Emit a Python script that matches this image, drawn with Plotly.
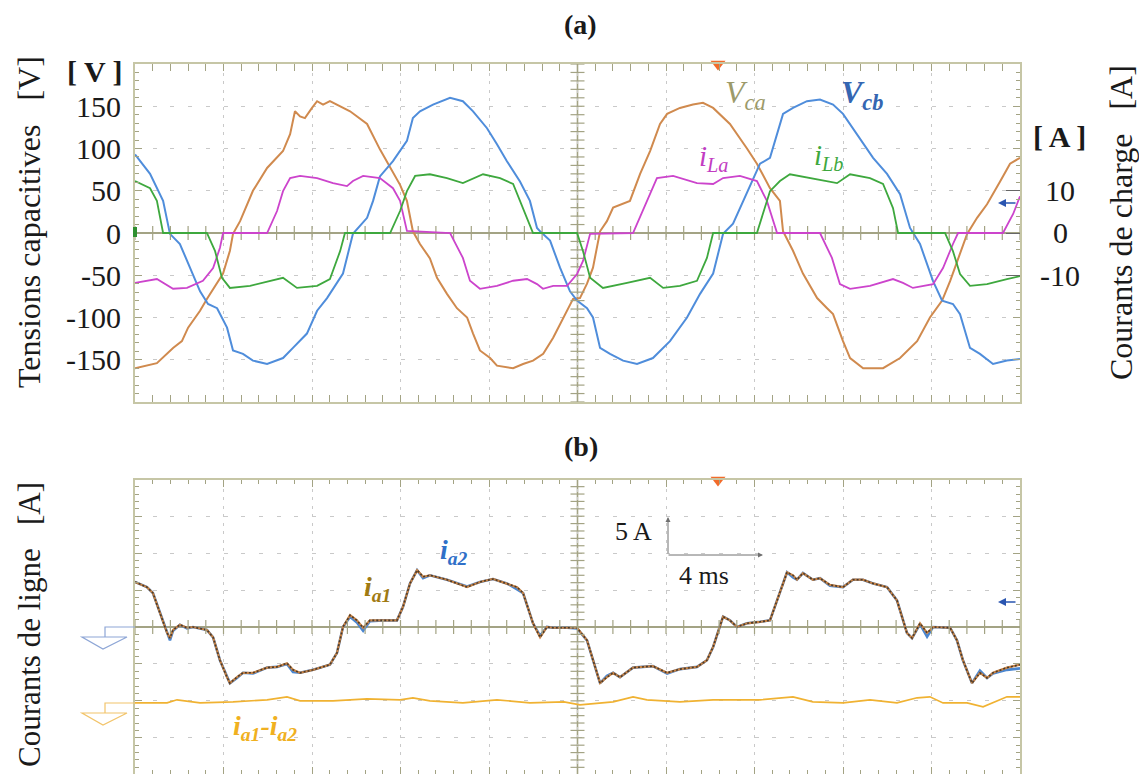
import numpy as np
import plotly.graph_objects as go

# ---------------- data ----------------
# time in ms (4 ms/div, 10 div)
t_vca = [0, 0.99, 1.72, 2.12, 2.40, 2.94, 3.25, 3.71, 3.98, 4.29, 4.43, 4.75, 5.33, 5.97, 6.42, 6.69,
         7.01, 7.23, 7.46, 7.68, 8.00, 8.23, 8.50, 8.81, 9.72, 10.49, 11.07, 11.53, 11.98, 12.29, 12.56,
         12.88, 13.33, 13.65, 14.10, 14.55, 15.01, 15.28, 15.59, 16.05, 16.36, 17.09, 17.54, 17.99, 18.45,
         18.90, 19.30, 19.80, 20.11, 20.43, 20.70, 20.93, 21.02, 21.33, 21.61, 22.37, 22.83, 23.28, 23.73,
         24.05, 24.63, 25.22, 25.67, 26.13, 26.89, 27.66, 28.11, 28.70, 29.15, 29.29, 29.74, 30.19, 30.83,
         31.28, 31.55, 32.00, 32.32, 32.91, 33.81, 34.58, 35.35, 35.93, 36.48, 36.84, 37.29, 37.61, 38.06,
         38.51, 39.10, 39.55, 40.00]
vca = [-160, -154, -136, -128, -112, -92, -78, -60, -48, -21, -1, 14, 50, 77, 89, 97,
       117, 144, 138, 136, 148, 156, 152, 156, 144, 129, 99, 78, 57, 38, 2,
       -13, -30, -53, -72, -89, -100, -119, -139, -148, -157, -160, -155, -151, -143,
       -124, -104, -78, -77, -60, -41, -9, 2, 14, 30, 38, 70, 97, 129,
       141, 148, 152, 154, 148, 129, 100, 82, 53, 38, 2, -21, -48, -77,
       -89, -96, -128, -148, -160, -160, -148, -128, -100, -80, -57, -25, -1, 18,
       34, 61, 82, 89]

t_vcb = [0, 0.68, 1.27, 1.58, 2.03, 2.49, 2.94, 3.30, 3.71, 4.16, 4.43, 4.88, 5.33, 5.97, 6.69, 7.14,
         7.77, 8.23, 8.68, 9.40, 9.85, 10.49, 10.76, 11.07, 11.66, 12.29, 12.56, 12.88, 13.47, 14.24,
         14.82, 15.28, 15.91, 16.36, 16.81, 17.40, 17.85, 18.17, 18.31, 18.76, 19.21, 19.66, 19.98, 20.43,
         20.70, 21.02, 21.47, 22.06, 22.69, 23.41, 24.18, 24.95, 25.54, 26.13, 26.58, 27.03, 27.48, 28.25,
         28.70, 29.29, 29.74, 30.37, 30.96, 31.55, 32.00, 32.63, 33.36, 33.99, 34.58, 35.03, 35.48, 36.07,
         36.48, 36.97, 37.29, 37.74, 38.19, 38.78, 39.41, 40.00]
vcb = [93, 70, 38, -1, -13, -41, -69, -84, -89, -112, -139, -143, -151, -155, -148, -136,
       -119, -92, -77, -48, -1, 18, 38, 67, 85, 109, 136, 144, 152, 160,
       156, 144, 124, 105, 85, 61, 38, 6, 2, -9, -41, -69, -80, -89,
       -100, -136, -143, -151, -155, -148, -128, -100, -72, -48, -1, 11, 38, 82,
       89, 141, 148, 156, 158, 152, 141, 117, 89, 70, 46, 6, -13, -57,
       -80, -84, -96, -136, -143, -155, -151, -149]

t_ila = [0, 0.99, 1.72, 2.35, 3.07, 3.53, 3.84, 3.98, 5.97, 6.42, 6.69, 7.01, 7.46, 8.23, 8.95, 9.58,
         9.85, 10.31, 11.07, 11.66, 11.98, 12.29, 14.24, 14.82, 15.14, 15.59, 16.36, 17.09, 17.72, 18.17,
         18.44, 18.90, 19.53, 19.98, 20.25, 20.57, 22.51, 23.14, 23.59, 24.32, 25.40, 26.13, 26.58, 27.34,
         28.11, 28.56, 28.84, 29.02, 30.96, 31.50, 31.86, 32.32, 33.22, 34.26, 34.71, 35.16, 36.07, 36.52,
         36.97, 37.20, 39.23, 39.69, 40.00]
ila = [-11.8, -10.9, -13.2, -13.0, -11.3, -8.3, -3.5, 0, 0, 5.2, 9.9, 13.0, 13.5, 13.0, 11.8, 11.1,
       12.3, 13.5, 13.0, 10.6, 7.6, 0.5, 0, -5.9, -11.3, -13.2, -12.5, -11.3, -10.9, -12.1,
       -13.2, -12.5, -12.5, -9.7, -6.6, -0.2, 0, 7.6, 13.0, 13.5, 11.8, 11.6, 13.0, 13.5,
       12.3, 7.6, 2.8, 0, 0, -5.9, -12.1, -13.2, -12.5, -10.9, -11.8, -13.0, -12.1, -8.3,
       -2.6, 0, 0, 4.5, 8.7]

t_ilb = [0, 0.68, 0.99, 1.27, 3.25, 3.62, 3.93, 4.29, 5.20, 6.69, 7.32, 8.23, 8.81, 9.27, 9.49, 11.53,
         11.98, 12.29, 12.66, 13.33, 14.10, 14.82, 15.73, 16.50, 17.09, 17.72, 17.99, 19.98, 20.25, 20.57,
         21.15, 22.24, 23.28, 23.87, 24.63, 25.40, 25.85, 26.13, 28.11, 28.70, 29.15, 29.60, 30.51, 31.73,
         32.32, 33.22, 33.81, 34.26, 34.49, 36.61, 36.97, 37.29, 37.74, 38.51, 39.41, 40.00]
ilb = [12.3, 10.6, 7.6, 0, 0, -4.3, -10.6, -13.0, -12.5, -10.6, -13.0, -12.5, -10.9, -4.3, 0, 0,
       5.2, 9.9, 13.5, 13.9, 13.0, 11.8, 13.9, 13.0, 11.6, 3.5, 0, 0, -4.3, -10.6,
       -13.0, -11.8, -10.6, -13.0, -12.5, -11.3, -5.9, 0, 0, 9.9, 12.3, 13.9, 13.0, 11.8,
       13.9, 13.0, 11.6, 5.9, 0, 0, -4.3, -9.7, -12.5, -12.1, -10.9, -10.2]

t_ia = [0, 0.54, 0.81, 1.13, 1.45, 1.58, 1.72, 2.03, 2.35, 2.62, 3.25, 3.53, 3.84, 4.16, 4.29, 4.61,
        4.88, 5.33, 5.97, 6.42, 6.87, 7.14, 7.46, 8.05, 8.81, 9.13, 9.40, 9.72, 10.03, 10.31, 10.62,
        11.21, 11.84, 12.11, 12.43, 12.75, 13.02, 13.33, 14.10, 15.01, 15.59, 16.18, 16.81, 17.27, 17.54,
        17.99, 18.31, 18.62, 18.90, 19.53, 19.98, 20.43, 20.70, 21.02, 21.33, 21.61, 21.92, 22.51, 23.41,
        24.05, 24.63, 25.40, 25.85, 26.13, 26.58, 26.89, 27.21, 27.66, 28.25, 28.70, 29.02, 29.47, 29.74,
        29.92, 30.19, 30.64, 30.96, 31.41, 32.00, 32.45, 32.90, 33.36, 33.99, 34.44, 34.89, 35.12, 35.48,
        35.80, 36.07, 36.84, 37.15, 37.42, 37.83, 38.19, 38.51, 38.78, 39.41, 40.00]
ia1 = [6.1, 5.4, 4.6, 1.9, -0.8, -1.5, -0.4, 0.3, -0.1, 0, -0.4, -1.4, -4.5, -6.8, -7.6, -6.8,
       -6.2, -6.2, -5.5, -5.4, -4.9, -5.8, -6.2, -5.8, -5.1, -3.5, 0, 1.6, 0.9, -0.1, 0.9,
       0.9, 0.9, 2.7, 5.9, 7.7, 6.8, 7.0, 6.4, 5.4, 6.1, 6.5, 5.9, 5.4, 4.6,
       0.5, -1.4, 0, -0.1, -0.1, -0.1, -1.8, -4.5, -7.6, -6.8, -6.2, -6.8, -5.5, -5.3,
       -6.2, -5.7, -5.4, -4.5, -2.7, 1.4, 0.9, 0, 0.5, 0.7, 0.9, 3.6, 7.4, 7.0,
       6.4, 7.3, 6.4, 6.6, 5.7, 5.4, 6.4, 6.4, 5.9, 5.4, 3.6, -0.8, -1.5, 0.5,
       -0.8, 0, -0.1, -1.8, -4.5, -7.6, -6.2, -6.9, -6.2, -5.5, -5.1]
ia2 = [6.1, 5.4, 4.6, 1.9, -0.8, -1.8, -0.5, 0.3, -0.2, 0, -0.4, -1.4, -4.5, -6.8, -7.6, -6.9,
       -6.2, -6.3, -5.5, -5.4, -5.0, -6.1, -6.2, -5.8, -5.1, -3.5, 0, 1.4, 0.6, -0.5, 0.8,
       0.9, 0.9, 2.7, 5.9, 7.7, 6.6, 7.0, 6.4, 5.5, 6.1, 6.5, 5.9, 5.1, 4.6,
       0.5, -1.2, 0, -0.1, -0.1, -0.2, -1.8, -4.5, -7.6, -6.6, -6.2, -6.8, -5.5, -5.3,
       -6.3, -5.7, -5.4, -4.5, -2.7, 1.4, 0.9, 0, 0.5, 0.7, 0.9, 3.6, 7.4, 6.7,
       6.4, 7.3, 6.4, 6.6, 5.6, 5.4, 6.4, 6.4, 5.9, 5.4, 3.6, -0.8, -1.5, 0.4,
       -1.3, 0, -0.1, -1.8, -4.5, -7.6, -5.9, -6.9, -6.3, -5.8, -5.6]

t_diff = [0, 1.45, 1.90, 2.94, 4.43, 5.97, 6.87, 7.46, 8.95, 10.49, 11.98, 12.56, 13.33, 14.82, 16.36,
          17.85, 19.39, 20.11, 21.61, 22.51, 23.14, 24.63, 26.13, 27.66, 28.25, 29.74, 30.64, 32.00,
          33.22, 34.44, 35.35, 35.93, 36.52, 37.61, 38.33, 39.41, 40.00]
i_diff = [-0.27, -0.27, 0.14, -0.27, -0.14, 0.14, 0.54, 0, 0, 0.27, 0.14, 0.41, 0, -0.27, 0.14,
          -0.27, -0.14, -0.54, -0.14, 0.54, 0.14, -0.14, 0.14, 0.14, 0.14, 0.54, -0.14, -0.27,
          0.14, -0.27, 0.41, 0.54, -0.27, -0.27, -0.81, 0.54, 0.54]
DIFF_OFFSET = -10          # A, display offset of the i_a1 - i_a2 channel (2 div below zero)

v_ticks = [150, 100, 50, 0, -50, -100, -150]
a_ticks = [10, 0, -10]
TRIGGER_MS = 26.35

# ---------------- styling ----------------
W, H = 1139, 774
FONT = "Liberation Serif"
BORDER = "#c6c6a6"
CROSS = "#a3a384"
GRID = "#c9c9c9"
C_VCA = "#d08a4e"
C_VCB = "#4f8ddb"
C_ILA = "#cc44cc"
C_ILB = "#3ea83e"
C_IA1 = "#c98446"
C_IA2 = "#4a86d0"
C_DIF = "#f0b232"


def pxx(x):
    return x / W


def pxy(y):
    return 1 - y / H


fig = go.Figure()

# ---- top panel ----
fig.add_trace(go.Scatter(x=t_vca, y=vca, mode="lines", line=dict(color=C_VCA, width=2), xaxis="x", yaxis="y",
                         showlegend=False))
fig.add_trace(go.Scatter(x=t_vcb, y=vcb, mode="lines", line=dict(color=C_VCB, width=2), xaxis="x", yaxis="y",
                         showlegend=False))
fig.add_trace(go.Scatter(x=t_ila, y=ila, mode="lines", line=dict(color=C_ILA, width=1.8), xaxis="x", yaxis="y3",
                         showlegend=False))
fig.add_trace(go.Scatter(x=t_ilb, y=ilb, mode="lines", line=dict(color=C_ILB, width=1.8), xaxis="x", yaxis="y3",
                         showlegend=False))

# ---- bottom panel ----
fig.add_trace(go.Scatter(x=t_diff, y=[v + DIFF_OFFSET for v in i_diff], mode="lines",
                         line=dict(color=C_DIF, width=1.6), xaxis="x2", yaxis="y2", showlegend=False))
fig.add_trace(go.Scatter(x=t_ia, y=ia2, mode="lines", line=dict(color=C_IA2, width=2.6), xaxis="x2", yaxis="y2",
                         showlegend=False))
fig.add_trace(go.Scatter(x=t_ia, y=ia1, mode="lines", line=dict(color=C_IA1, width=2.2), xaxis="x2", yaxis="y2",
                         showlegend=False))
fig.add_trace(go.Scatter(x=t_ia, y=ia1, mode="lines", line=dict(color="#4a3a2a", width=1.6, dash="2px,2px"),
                         xaxis="x2", yaxis="y2", showlegend=False))

# ---- crosshair tick decorations ----
for xa, ya, yr, ystep in (("x", "y", 200, 10), ("x2", "y2", 20, 1)):
    yy = np.arange(-yr, yr + 1e-9, ystep)
    fig.add_trace(go.Scatter(x=[20] * len(yy), y=yy, mode="markers", xaxis=xa, yaxis=ya, hoverinfo="skip",
                             marker=dict(symbol="line-ew", size=10, line=dict(color=CROSS, width=1.2)),
                             showlegend=False, cliponaxis=True))
    xx = np.arange(0, 40 + 1e-9, 0.8)
    fig.add_trace(go.Scatter(x=xx, y=[0] * len(xx), mode="markers", xaxis=xa, yaxis=ya, hoverinfo="skip",
                             marker=dict(symbol="line-ns", size=10, line=dict(color=CROSS, width=1.2)),
                             showlegend=False, cliponaxis=True))

xdom = [pxx(135), pxx(1020)]
common_x = dict(range=[0, 40], showticklabels=False, ticks="inside", ticklen=7, tickcolor=CROSS,
                tick0=0, dtick=4, showgrid=True, gridcolor=GRID, griddash="3px,5.5px", gridwidth=1,
                showline=True, linecolor=BORDER, linewidth=2, mirror="allticks", zeroline=False,
                minor=dict(dtick=0.8, tick0=0, ticks="inside", ticklen=4, tickcolor=CROSS, showgrid=False))

fig.update_layout(
    width=W, height=H,
    margin=dict(l=0, r=0, t=0, b=0),
    paper_bgcolor="white", plot_bgcolor="white",
    font=dict(family=FONT, color="#1a1a1a", size=26),
    xaxis=dict(domain=xdom, anchor="y", **common_x),
    xaxis2=dict(domain=xdom, anchor="y2", **common_x),
    yaxis=dict(domain=[pxy(402), pxy(64)], range=[-200, 200], anchor="x",
               tickmode="array", tickvals=v_ticks, ticktext=[str(v) for v in v_ticks],
               ticks="inside", ticklen=7, tickcolor=CROSS, ticklabelstandoff=6,
               tickfont=dict(family=FONT, size=30, color="#1a1a1a"),
               showgrid=True, gridcolor=GRID, griddash="4px,13.7px",
               showline=True, linecolor=BORDER, linewidth=2, mirror="allticks",
               zeroline=True, zerolinecolor=CROSS, zerolinewidth=1.6,
               minor=dict(dtick=10, tick0=0, ticks="inside", ticklen=4, tickcolor=CROSS, showgrid=False)),
    yaxis3=dict(overlaying="y", side="right", anchor="x", range=[-40, 40],
                tickmode="array", tickvals=a_ticks, ticks="inside", ticklen=14, tickcolor="#666666",
                showticklabels=False, showgrid=False, zeroline=False, showline=False),
    yaxis2=dict(domain=[0, pxy(480)], range=[-19.9, 19.9], anchor="x2", showticklabels=False,
                tick0=0, dtick=5, ticks="inside", ticklen=7, tickcolor=CROSS,
                showgrid=True, gridcolor=GRID, griddash="4px,13.7px",
                showline=True, linecolor=BORDER, linewidth=2, mirror="allticks",
                zeroline=True, zerolinecolor=CROSS, zerolinewidth=1.6,
                minor=dict(dtick=1, tick0=0, ticks="inside", ticklen=4, tickcolor=CROSS, showgrid=False)),
)

shapes = []
# center vertical crosshair
for xa, ya in (("x", "y"), ("x2", "y2")):
    shapes.append(dict(type="line", xref=xa, yref=ya + " domain", x0=20, x1=20, y0=0, y1=1,
                       line=dict(color=CROSS, width=1.6), layer="below"))


def ppath(points):
    s = "M " + " L ".join(f"{pxx(x):.5f},{pxy(y):.5f}" for x, y in points)
    return s


# ground markers (bottom panel)
for yy, col in ((627, "#8ea6d6"), (703, "#f2c46a")):
    shapes.append(dict(type="path", xref="paper", yref="paper",
                       path=ppath([(135, yy), (105, yy), (105, yy + 10)]), line=dict(color=col, width=1.2)))
    shapes.append(dict(type="path", xref="paper", yref="paper",
                       path=ppath([(82, yy + 10), (127, yy + 10), (103, yy + 22)]) + " Z",
                       line=dict(color=col, width=1.2), fillcolor="rgba(0,0,0,0)"))
# green ground tick on the top panel
shapes.append(dict(type="rect", xref="paper", yref="paper", x0=pxx(133), x1=pxx(137), y0=pxy(237), y1=pxy(227),
                   line=dict(width=0), fillcolor="#2f8f2f"))
fig.update_layout(shapes=shapes)

# trigger markers
for xa, ya, ytop in (("x", "y", 200), ("x2", "y2", 19.9)):
    fig.add_trace(go.Scatter(x=[TRIGGER_MS], y=[ytop], mode="markers", xaxis=xa, yaxis=ya, cliponaxis=False,
                             marker=dict(symbol="triangle-down", size=13, color="#f26b2a"),
                             showlegend=False, hoverinfo="skip"))

ann = []


def txt(x, y, text, size=26, color="#1a1a1a", angle=0, **kw):
    ann.append(dict(x=pxx(x), y=pxy(y), xref="paper", yref="paper", text=text, showarrow=False,
                    textangle=angle, font=dict(family=FONT, size=size, color=color),
                    xanchor="center", yanchor="middle", **kw))


txt(580, 24, "<b>(a)</b>", size=28)
txt(581, 446, "<b>(b)</b>", size=28)
txt(95, 72, "<b>[ V ]</b>", size=30)
txt(1059, 137, "<b>[ A ]</b>", size=30)
txt(29, 222, "Tensions capacitives\u00a0\u00a0 [V]", size=32, angle=-90)
txt(1121, 223, "Courants de charge\u00a0\u00a0 [A]", size=32, angle=-90)
txt(29, 625, "Courants de ligne\u00a0\u00a0 [A]", size=31, angle=-90)

# right-axis tick labels (current scale of panel a)
for v in a_ticks:
    ann.append(dict(x=pxx(1060), y=v, xref="paper", yref="y3", text=str(v), showarrow=False,
                    font=dict(family=FONT, size=30, color="#1a1a1a"), xanchor="center", yanchor="middle"))

# trace labels
txt(745, 94, "<i>V<sub>ca</sub></i>", size=32, color="#9c9a6a")
txt(862, 95, "<b><i>V<sub>cb</sub></i></b>", size=32, color="#3566b2")
txt(713, 158, "<i>i<sub>La</sub></i>", size=29, color="#c23cc2")
txt(828, 157, "<i>i<sub>Lb</sub></i>", size=29, color="#3ea83e")
txt(377, 588, "<b><i>i<sub>a1</sub></i></b>", size=28, color="#a07a12")
txt(454, 551, "<b><i>i<sub>a2</sub></i></b>", size=28, color="#3070c8")
txt(265, 727, "<b><i>i<sub>a1</sub>-i<sub>a2</sub></i></b>", size=28, color="#f0b020")
txt(634, 531, "5 A", size=26)
txt(704, 575, "4 ms", size=26)


def arrow(hx, hy, tx, ty, color, width):
    ann.append(dict(x=pxx(hx), y=pxy(hy), ax=tx - hx, ay=ty - hy, xref="paper", yref="paper",
                    axref="pixel", ayref="pixel", text="", showarrow=True, arrowhead=2, arrowsize=1,
                    arrowwidth=width, arrowcolor=color))


# scale arrows
arrow(668, 517, 668, 555, "#707070", 1)
arrow(763, 555, 667, 555, "#707070", 1)
# small channel-offset arrows on the right
for yy in (203, 602):
    arrow(998, yy, 1017, yy, "#2a55b0", 1.6)

fig.update_layout(annotations=ann)

fig.write_html("out.html", config={"displayModeBar": False})

# remove the default page margin so the figure sits at the window origin
with open("out.html", encoding="utf-8") as f:
    page = f.read()
page = page.replace("<head>", "<head><style>html,body{margin:0;padding:0;overflow:hidden;}</style>", 1)
with open("out.html", "w", encoding="utf-8") as f:
    f.write(page)
